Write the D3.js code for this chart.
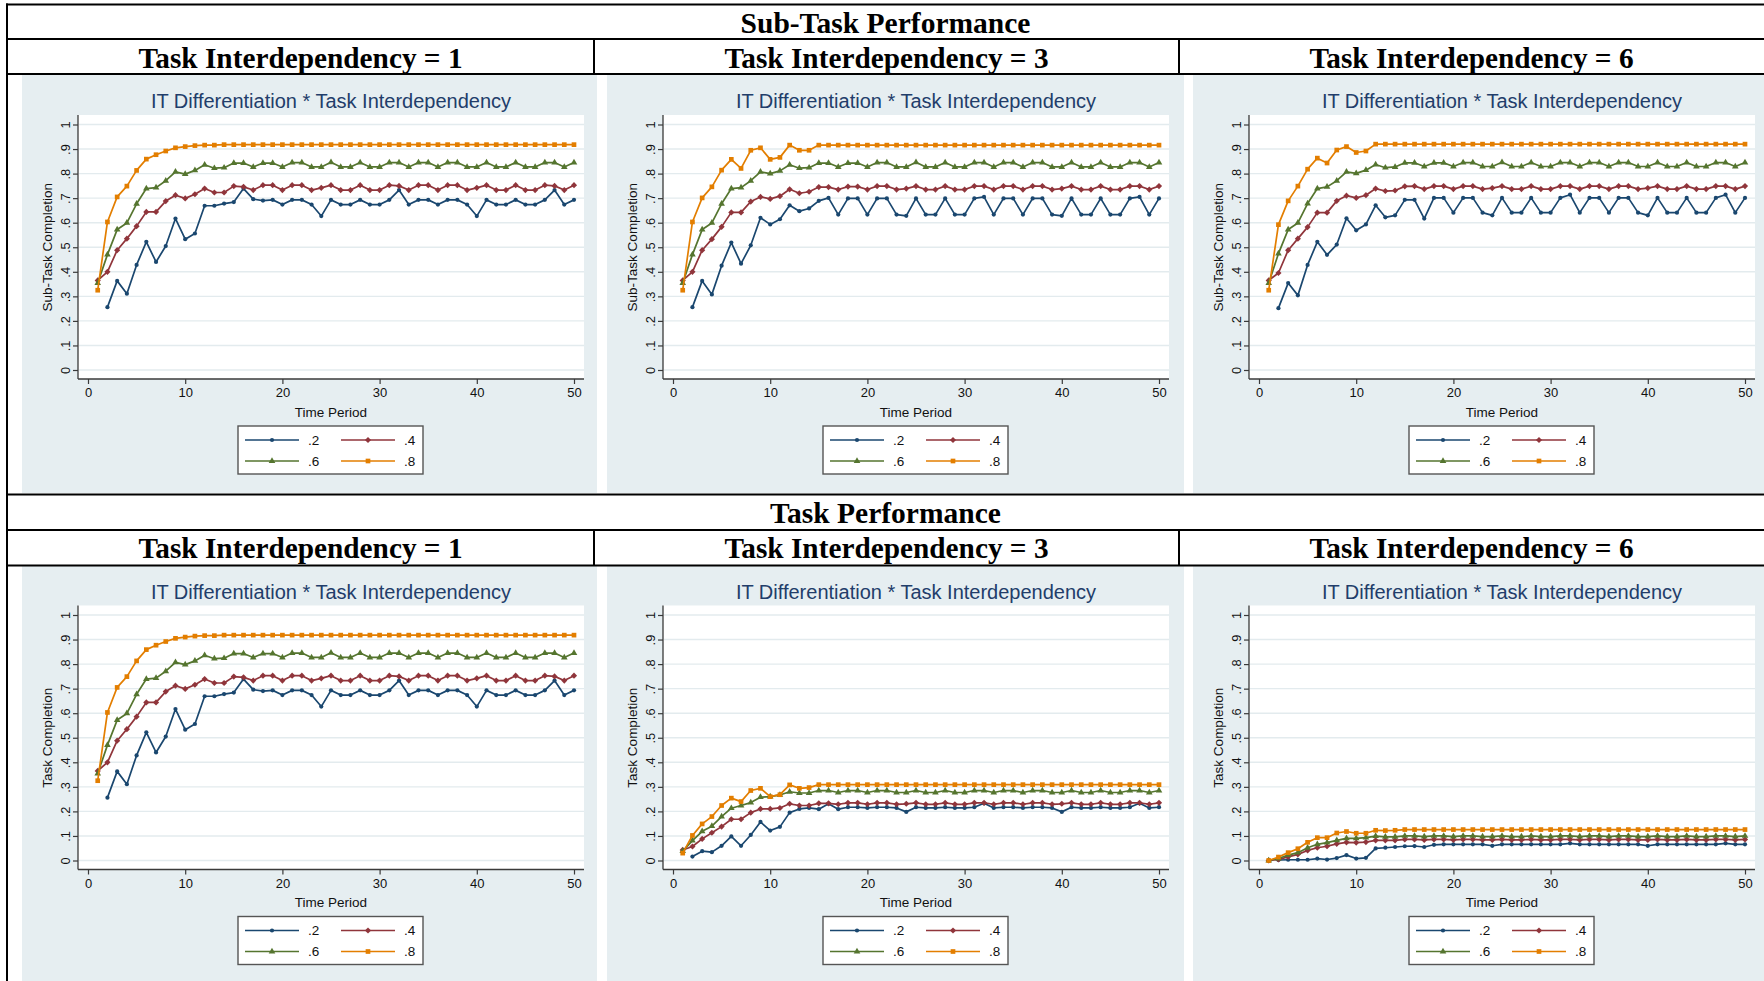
<!DOCTYPE html>
<html>
<head>
<meta charset="utf-8">
<script src="https://cdn.jsdelivr.net/npm/d3@7"></script>
<style>
  html, body { margin: 0; padding: 0; background: #ffffff; }
  svg { display: block; }
</style>
</head>
<body>
<svg id="fig" width="1764" height="981"></svg>
<script>
// ---------------------------------------------------------------
// Data: completion by time period for four levels of IT differentiation
// ---------------------------------------------------------------
const periods = d3.range(1, 51);
const seriesNames = [".2", ".4", ".6", ".8"];
const xTicks = [0, 10, 20, 30, 40, 50];
const yTicks = [0, 0.1, 0.2, 0.3, 0.4, 0.5, 0.6, 0.7, 0.8, 0.9, 1];
const yTickLabels = ["0", ".1", ".2", ".3", ".4", ".5", ".6", ".7", ".8", ".9", "1"];
const sectionHeads = ["Sub-Task Performance", "Task Performance"];
const columnHeads = ["Task Interdependency = 1", "Task Interdependency = 3", "Task Interdependency = 6"];
const yTitles = ["Sub-Task Completion", "Task Completion"];
const panelTitle = "IT Differentiation * Task Interdependency";
const xTitle = "Time Period";

// Sub-task completion, task interdependency = 1
const subTI1_02 = [null, .256, .363, .311, .428, .522, .440, .505, .617, .533, .556, .669, .669, .678, .684, .739, .696, .690, .693, .674, .693, .693, .674, .627, .693, .674, .674, .693, .674, .674, .693, .733, .674, .693, .693, .674, .693, .693, .674, .627, .693, .674, .674, .693, .674, .674, .693, .733, .674, .693];
const subTI1_04 = [.365, .400, .488, .535, .586, .644, .644, .688, .712, .699, .716, .739, .723, .723, .749, .746, .733, .753, .753, .733, .753, .753, .733, .742, .753, .733, .733, .753, .733, .733, .753, .750, .733, .753, .753, .733, .753, .753, .733, .742, .753, .733, .733, .753, .733, .733, .753, .750, .733, .753];
const subTI1_06 = [.354, .470, .572, .599, .677, .739, .743, .771, .807, .798, .813, .836, .822, .824, .843, .843, .827, .843, .843, .827, .845, .845, .827, .827, .846, .827, .827, .845, .827, .827, .845, .845, .827, .845, .845, .827, .845, .845, .827, .827, .845, .827, .827, .845, .827, .827, .845, .845, .827, .845];
const subTI1_08 = [.325, .603, .705, .749, .813, .859, .877, .892, .905, .910, .914, .916, .916, .918, .918, .918, .918, .918, .918, .918, .918, .918, .918, .918, .918, .918, .918, .918, .918, .918, .918, .918, .918, .918, .918, .918, .918, .918, .918, .918, .918, .918, .918, .918, .918, .918, .918, .918, .918, .918];

// Sub-task completion, task interdependency = 3
const subTI3_02 = [null, .256, .363, .308, .425, .519, .433, .508, .620, .593, .614, .671, .647, .658, .689, .701, .633, .699, .699, .633, .699, .699, .633, .628, .699, .633, .633, .699, .633, .633, .699, .705, .633, .699, .699, .633, .699, .699, .633, .628, .699, .633, .633, .699, .633, .633, .699, .705, .633, .699];
const subTI3_04 = [.365, .400, .488, .533, .583, .642, .642, .686, .705, .697, .708, .736, .720, .726, .745, .745, .735, .747, .747, .735, .749, .749, .735, .739, .749, .735, .735, .749, .735, .735, .749, .749, .735, .749, .749, .735, .749, .749, .735, .739, .749, .735, .735, .749, .735, .735, .749, .749, .735, .749];
const subTI3_06 = [.354, .470, .572, .599, .677, .739, .743, .771, .807, .800, .811, .836, .822, .824, .843, .843, .827, .843, .843, .827, .845, .845, .827, .827, .846, .827, .827, .845, .827, .827, .845, .845, .827, .845, .845, .827, .845, .845, .827, .827, .845, .827, .827, .845, .827, .827, .845, .845, .827, .845];
const subTI3_08 = [.325, .603, .701, .746, .814, .858, .821, .895, .905, .858, .866, .916, .895, .895, .916, .916, .916, .916, .916, .916, .916, .916, .916, .916, .916, .916, .916, .916, .916, .916, .916, .916, .916, .916, .916, .916, .916, .916, .916, .916, .916, .916, .916, .916, .916, .916, .916, .916, .916, .916];

// Sub-task completion, task interdependency = 6
const subTI6_02 = [null, .252, .354, .304, .428, .522, .469, .511, .618, .569, .593, .671, .622, .630, .693, .693, .617, .701, .701, .641, .701, .701, .641, .630, .701, .641, .641, .701, .641, .641, .701, .714, .641, .701, .701, .641, .701, .701, .641, .630, .701, .641, .641, .701, .641, .641, .701, .714, .641, .701];
const subTI6_04 = [.365, .395, .488, .535, .582, .641, .641, .689, .710, .701, .712, .739, .729, .731, .748, .749, .737, .749, .749, .737, .749, .749, .737, .741, .749, .737, .737, .749, .737, .737, .749, .749, .737, .749, .749, .737, .749, .749, .737, .741, .749, .737, .737, .749, .737, .737, .749, .749, .737, .749];
const subTI6_06 = [.354, .474, .572, .599, .678, .739, .746, .771, .807, .801, .814, .837, .824, .827, .844, .844, .829, .844, .844, .829, .845, .845, .829, .829, .846, .829, .829, .845, .829, .829, .845, .845, .829, .845, .845, .829, .845, .845, .829, .829, .845, .829, .829, .845, .829, .829, .845, .845, .829, .845];
const subTI6_08 = [.325, .592, .689, .749, .818, .863, .843, .896, .910, .886, .892, .920, .920, .920, .920, .920, .920, .920, .920, .920, .920, .920, .920, .920, .920, .920, .920, .920, .920, .920, .920, .920, .920, .920, .920, .920, .920, .920, .920, .920, .920, .920, .920, .920, .920, .920, .920, .920, .920, .920];

// Task completion, task interdependency = 1 (identical to the sub-task run)
const taskTI1_02 = subTI1_02.slice();
const taskTI1_04 = subTI1_04.slice();
const taskTI1_06 = subTI1_06.slice();
const taskTI1_08 = subTI1_08.slice();

// Task completion, task interdependency = 3
const taskTI3_02 = [null, .016, .038, .034, .060, .098, .060, .104, .157, .122, .137, .195, .210, .214, .209, .231, .209, .217, .217, .214, .217, .217, .214, .198, .217, .214, .214, .217, .214, .214, .217, .233, .214, .217, .217, .214, .217, .217, .214, .198, .217, .214, .214, .217, .214, .214, .217, .233, .214, .217];
const taskTI3_04 = [.043, .057, .088, .113, .138, .168, .168, .195, .210, .210, .214, .231, .224, .224, .233, .233, .229, .235, .235, .229, .235, .235, .229, .231, .235, .229, .229, .235, .229, .229, .235, .235, .229, .235, .235, .229, .235, .235, .229, .231, .235, .229, .229, .235, .229, .229, .235, .235, .229, .235];
const taskTI3_06 = [.038, .081, .119, .140, .179, .213, .224, .236, .258, .260, .267, .280, .275, .275, .285, .285, .277, .285, .285, .277, .285, .285, .277, .277, .285, .277, .277, .285, .277, .277, .285, .285, .277, .285, .285, .277, .285, .285, .277, .277, .285, .277, .277, .285, .277, .277, .285, .285, .277, .285];
const taskTI3_08 = [.030, .102, .149, .179, .224, .254, .240, .285, .294, .260, .268, .308, .294, .297, .309, .309, .309, .309, .309, .309, .309, .309, .309, .309, .309, .309, .309, .309, .309, .309, .309, .309, .309, .309, .309, .309, .309, .309, .309, .309, .309, .309, .309, .309, .309, .309, .309, .309, .309, .309];

// Task completion, task interdependency = 6
const taskTI6_02 = [null, .002, .003, .003, .003, .008, .004, .010, .022, .008, .011, .049, .052, .055, .058, .059, .055, .064, .066, .066, .066, .066, .066, .060, .066, .066, .066, .066, .066, .066, .066, .070, .066, .066, .066, .066, .066, .066, .066, .060, .066, .066, .066, .066, .066, .066, .066, .070, .066, .066];
const taskTI6_04 = [.000, .004, .015, .025, .041, .052, .058, .068, .074, .073, .075, .082, .082, .082, .086, .086, .084, .086, .086, .084, .086, .086, .084, .084, .086, .084, .084, .086, .084, .084, .086, .086, .084, .086, .086, .084, .086, .086, .084, .084, .086, .084, .084, .086, .084, .084, .086, .086, .084, .086];
const taskTI6_06 = [.000, .008, .022, .032, .052, .066, .073, .082, .090, .090, .093, .099, .096, .096, .100, .100, .097, .100, .100, .097, .100, .100, .097, .097, .100, .097, .097, .100, .097, .097, .100, .100, .097, .100, .100, .097, .100, .100, .097, .097, .100, .097, .097, .100, .097, .097, .100, .100, .097, .100];
const taskTI6_08 = [.000, .014, .032, .048, .074, .093, .093, .112, .118, .111, .111, .123, .122, .123, .126, .126, .126, .126, .126, .126, .126, .126, .126, .126, .126, .126, .126, .126, .126, .126, .126, .126, .126, .126, .126, .126, .126, .126, .126, .126, .126, .126, .126, .126, .126, .126, .126, .126, .126, .126];

// Panels grouped by row (sub-task / task) and column (interdependency level)
const panelData = [
  [[subTI1_02, subTI1_04, subTI1_06, subTI1_08],
   [subTI3_02, subTI3_04, subTI3_06, subTI3_08],
   [subTI6_02, subTI6_04, subTI6_06, subTI6_08]],
  [[taskTI1_02, taskTI1_04, taskTI1_06, taskTI1_08],
   [taskTI3_02, taskTI3_04, taskTI3_06, taskTI3_08],
   [taskTI6_02, taskTI6_04, taskTI6_06, taskTI6_08]]
];

// ---------------------------------------------------------------
// Styling
// ---------------------------------------------------------------
const colors = ["#1a476f", "#90353b", "#55752f", "#e37e00"];
const symbolOf = [
  { type: d3.symbolCircle, size: 14, rot: 0 },
  { type: d3.symbolSquare, size: 19, rot: 45 },
  { type: d3.symbolTriangle, size: 19, rot: 0 },
  { type: d3.symbolSquare, size: 22, rot: 0 }
];
const sansFont = "'Liberation Sans', Arial, Helvetica, sans-serif";
const serifFont = "'Liberation Serif', 'Times New Roman', serif";
const panelBg = "#e6eef1";
const gridColor = "#e3ebee";
const axisColor = "#3a3a3a";
const titleColor = "#223d6a";

const svg = d3.select("#fig");

// Table layout
const tableLeft = 7, tableRight = 1764;
const colEdges = [7, 594, 1179, 1764];
const rowLines = [4.5, 39, 74, 494.5, 530, 565.5];
const headBaselines = [[32.5, 67.5], [522.5, 557.5]];
const panelLefts = [22, 607, 1193];
const panelWidths = [575, 577, 575];
const panelTops = [75, 565.5];
const panelHeights = [418, 420];

// Panel backgrounds
panelTops.forEach((top, r) => {
  panelLefts.forEach((left, c) => {
    svg.append("rect")
      .attr("x", left).attr("y", top)
      .attr("width", panelWidths[c]).attr("height", panelHeights[r])
      .attr("fill", panelBg);
  });
});

// Header text
sectionHeads.forEach((txt, r) => {
  svg.append("text")
    .attr("x", (tableLeft + tableRight) / 2)
    .attr("y", headBaselines[r][0])
    .attr("text-anchor", "middle")
    .attr("font-family", serifFont).attr("font-weight", "bold")
    .attr("font-size", 29.5).attr("fill", "#000")
    .text(txt);
  columnHeads.forEach((ch, c) => {
    svg.append("text")
      .attr("x", (colEdges[c] + colEdges[c + 1]) / 2)
      .attr("y", headBaselines[r][1])
      .attr("text-anchor", "middle")
      .attr("font-family", serifFont).attr("font-weight", "bold")
      .attr("font-size", 29.3).attr("fill", "#000")
      .text(ch);
  });
});

// ---------------------------------------------------------------
// One Stata-style line panel
// ---------------------------------------------------------------
function drawPanel(left, top, series, yTitle) {
  const g = svg.append("g");
  const plotL = left + 56, plotR = left + 562;
  const plotT = top + 40, plotB = top + 304;

  const x = d3.scaleLinear().domain([0, 50]).range([left + 66, left + 552]);
  const y = d3.scaleLinear().domain([0, 1]).range([top + 295, top + 49.5]);

  // plot region
  g.append("rect")
    .attr("x", plotL).attr("y", plotT)
    .attr("width", plotR - plotL).attr("height", plotB - plotT)
    .attr("fill", "#ffffff");

  // horizontal grid
  g.append("g").selectAll("line").data(yTicks).join("line")
    .attr("x1", plotL + 1).attr("x2", plotR)
    .attr("y1", d => y(d)).attr("y2", d => y(d))
    .attr("stroke", gridColor).attr("stroke-width", 1.4);

  // title
  g.append("text")
    .attr("x", left + 309).attr("y", top + 33.3)
    .attr("text-anchor", "middle")
    .attr("font-family", sansFont).attr("font-size", 20)
    .attr("fill", titleColor)
    .text(panelTitle);

  // y axis
  const yAxis = d3.axisLeft(y).tickValues(yTicks)
    .tickFormat((d, i) => yTickLabels[i]).tickSize(5).tickPadding(3);
  const ya = g.append("g").attr("transform", `translate(${plotL},0)`).call(yAxis);
  ya.select(".domain").remove();
  ya.selectAll(".tick line").attr("stroke", axisColor).attr("stroke-width", 1.2);
  ya.selectAll(".tick text")
    .attr("x", null).attr("dy", null)
    .attr("transform", "translate(-8.5,0) rotate(-90)")
    .attr("text-anchor", "middle")
    .attr("y", 0)
    .attr("font-family", sansFont).attr("font-size", 12.8).attr("fill", "#111");
  g.append("line")
    .attr("x1", plotL).attr("x2", plotL)
    .attr("y1", plotT).attr("y2", plotB)
    .attr("stroke", axisColor).attr("stroke-width", 1.3);

  // x axis
  const xAxis = d3.axisBottom(x).tickValues(xTicks).tickSize(5).tickPadding(4);
  const xa = g.append("g").attr("transform", `translate(0,${plotB})`).call(xAxis);
  xa.select(".domain").remove();
  xa.selectAll(".tick line").attr("stroke", axisColor).attr("stroke-width", 1.2);
  xa.selectAll(".tick text")
    .attr("font-family", sansFont).attr("font-size", 13).attr("fill", "#111");
  g.append("line")
    .attr("x1", plotL).attr("x2", plotR)
    .attr("y1", plotB).attr("y2", plotB)
    .attr("stroke", axisColor).attr("stroke-width", 1.3);

  // axis titles
  g.append("text")
    .attr("transform", `translate(${left + 29.5},${(y(0) + y(1)) / 2}) rotate(-90)`)
    .attr("text-anchor", "middle")
    .attr("font-family", sansFont).attr("font-size", 13.5).attr("fill", "#111")
    .text(yTitle);
  g.append("text")
    .attr("x", left + 309).attr("y", top + 341.5)
    .attr("text-anchor", "middle")
    .attr("font-family", sansFont).attr("font-size", 13.5).attr("fill", "#111")
    .text(xTitle);

  // series lines and markers
  const line = d3.line()
    .defined(d => d != null)
    .x((d, i) => x(periods[i]))
    .y(d => y(d));
  series.forEach((vals, s) => {
    g.append("path")
      .datum(vals)
      .attr("d", line)
      .attr("fill", "none")
      .attr("stroke", colors[s]).attr("stroke-width", 1.7)
      .attr("stroke-linejoin", "round");
    const sym = d3.symbol().type(symbolOf[s].type).size(symbolOf[s].size);
    g.append("g").selectAll("path")
      .data(vals.map((v, i) => ({ v, p: periods[i] })).filter(d => d.v != null))
      .join("path")
      .attr("d", sym)
      .attr("transform", d => `translate(${x(d.p)},${y(d.v)}) rotate(${symbolOf[s].rot})`)
      .attr("fill", colors[s]);
  });

  // legend
  const lgL = left + 216, lgT = top + 351;
  g.append("rect")
    .attr("x", lgL).attr("y", lgT).attr("width", 185).attr("height", 48)
    .attr("fill", "#ffffff").attr("stroke", "#555").attr("stroke-width", 1.4);
  const slots = [
    { dx: 7, dy: 14 }, { dx: 103, dy: 14 },
    { dx: 7, dy: 35 }, { dx: 103, dy: 35 }
  ];
  seriesNames.forEach((name, s) => {
    const sx = lgL + slots[s].dx, sy = lgT + slots[s].dy;
    g.append("line")
      .attr("x1", sx).attr("x2", sx + 54)
      .attr("y1", sy).attr("y2", sy)
      .attr("stroke", colors[s]).attr("stroke-width", 1.7);
    g.append("path")
      .attr("d", d3.symbol().type(symbolOf[s].type).size(symbolOf[s].size))
      .attr("transform", `translate(${sx + 27},${sy}) rotate(${symbolOf[s].rot})`)
      .attr("fill", colors[s]);
    g.append("text")
      .attr("x", sx + 63).attr("y", sy + 4.7)
      .attr("font-family", sansFont).attr("font-size", 13.5).attr("fill", "#111")
      .text(name);
  });
}

panelTops.forEach((top, r) => {
  panelLefts.forEach((left, c) => {
    drawPanel(left, top, panelData[r][c], yTitles[r]);
  });
});

// Table rules
const rules = svg.append("g").attr("stroke", "#000").attr("stroke-width", 2);
rowLines.forEach(yv => {
  rules.append("line").attr("x1", tableLeft - 1).attr("x2", tableRight)
    .attr("y1", yv).attr("y2", yv);
});
rules.append("line").attr("x1", tableLeft).attr("x2", tableLeft)
  .attr("y1", rowLines[0] - 1).attr("y2", 981);
[[rowLines[1], rowLines[2]], [rowLines[4], rowLines[5]]].forEach(([y1, y2]) => {
  [colEdges[1], colEdges[2]].forEach(xv => {
    rules.append("line").attr("x1", xv).attr("x2", xv).attr("y1", y1).attr("y2", y2);
  });
});
</script>
</body>
</html>
